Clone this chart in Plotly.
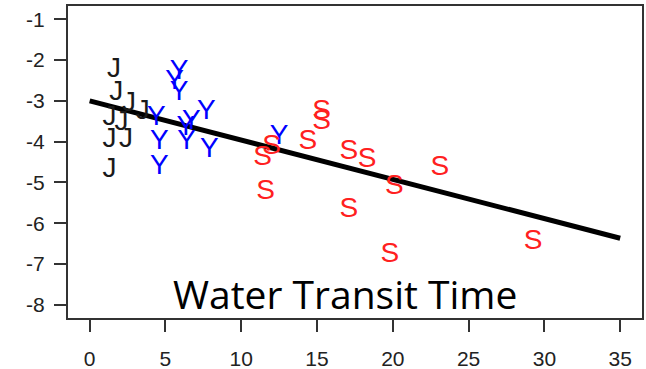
import plotly.graph_objects as go

# J group (black)
j_x = [1.6, 1.75, 2.6, 3.5, 1.3, 2.1, 1.3, 2.4, 1.3]
j_y = [-2.25, -2.8, -3.08, -3.28, -3.43, -3.55, -3.97, -3.97, -4.70]
# Y group (blue)
y_x = [5.9, 5.6, 5.9, 7.7, 4.4, 6.7, 6.35, 4.6, 6.4, 7.9, 4.6, 12.5]
y_y = [-2.30, -2.54, -2.81, -3.28, -3.43, -3.52, -3.67, -4.01, -4.01, -4.21, -4.63, -3.89]
# S group (red)
s_x = [15.3, 15.3, 12.0, 11.4, 14.4, 17.1, 18.3, 23.1, 20.1, 11.6, 17.1, 19.8, 29.25]
s_y = [-3.28, -3.52, -4.14, -4.40, -4.01, -4.26, -4.46, -4.65, -5.12, -5.24, -5.68, -6.78, -6.47]
# regression line
line_x = [0, 35]
line_y = [-3.0, -6.37]

x_ticks = [0, 5, 10, 15, 20, 25, 30, 35]
y_ticks = [-1, -2, -3, -4, -5, -6, -7, -8]
title_text = "Water Transit Time"

letter_font = dict(family="Liberation Sans, Arial", size=28)

fig = go.Figure()
fig.add_trace(go.Scatter(x=line_x, y=line_y, mode="lines",
                         line=dict(color="black", width=5), hoverinfo="skip"))
fig.add_trace(go.Scatter(x=j_x, y=j_y, mode="text", text=["J"] * len(j_x),
                         textposition="middle center",
                         textfont=dict(color="#1a1a1a", **letter_font)))
fig.add_trace(go.Scatter(x=y_x, y=y_y, mode="text", text=["Y"] * len(y_x),
                         textposition="middle center",
                         textfont=dict(color="#0000ff", **letter_font)))
fig.add_trace(go.Scatter(x=s_x, y=s_y, mode="text", text=["S"] * len(s_x),
                         textposition="middle center",
                         textfont=dict(color="#ff2020", **letter_font)))

axis_common = dict(showgrid=False, zeroline=False, showline=True, mirror=True,
                   linecolor="#333333", linewidth=2, ticks="outside", ticklen=12,
                   tickwidth=2, tickcolor="#333333", automargin=False,
                   tickfont=dict(family="Liberation Sans, Arial", size=21, color="#222222"))

fig.update_layout(
    width=646, height=369,
    margin=dict(l=68, r=4, t=6, b=51),
    paper_bgcolor="white", plot_bgcolor="white",
    showlegend=False,
    xaxis=dict(range=[-1.43, 36.44], tickvals=x_ticks, ticktext=[str(v) for v in x_ticks],
               ticklabelstandoff=9, **axis_common),
    yaxis=dict(range=[-8.326, -0.674], tickvals=y_ticks, ticktext=[str(v) for v in y_ticks],
               ticklabelstandoff=5, **axis_common),
    annotations=[dict(text=title_text, xref="paper", yref="paper", x=0.4826, y=0.08,
                      xanchor="center", yanchor="middle", showarrow=False,
                      font=dict(family="Open Sans", size=39, color="black"))],
)

fig.write_html("out.html")
